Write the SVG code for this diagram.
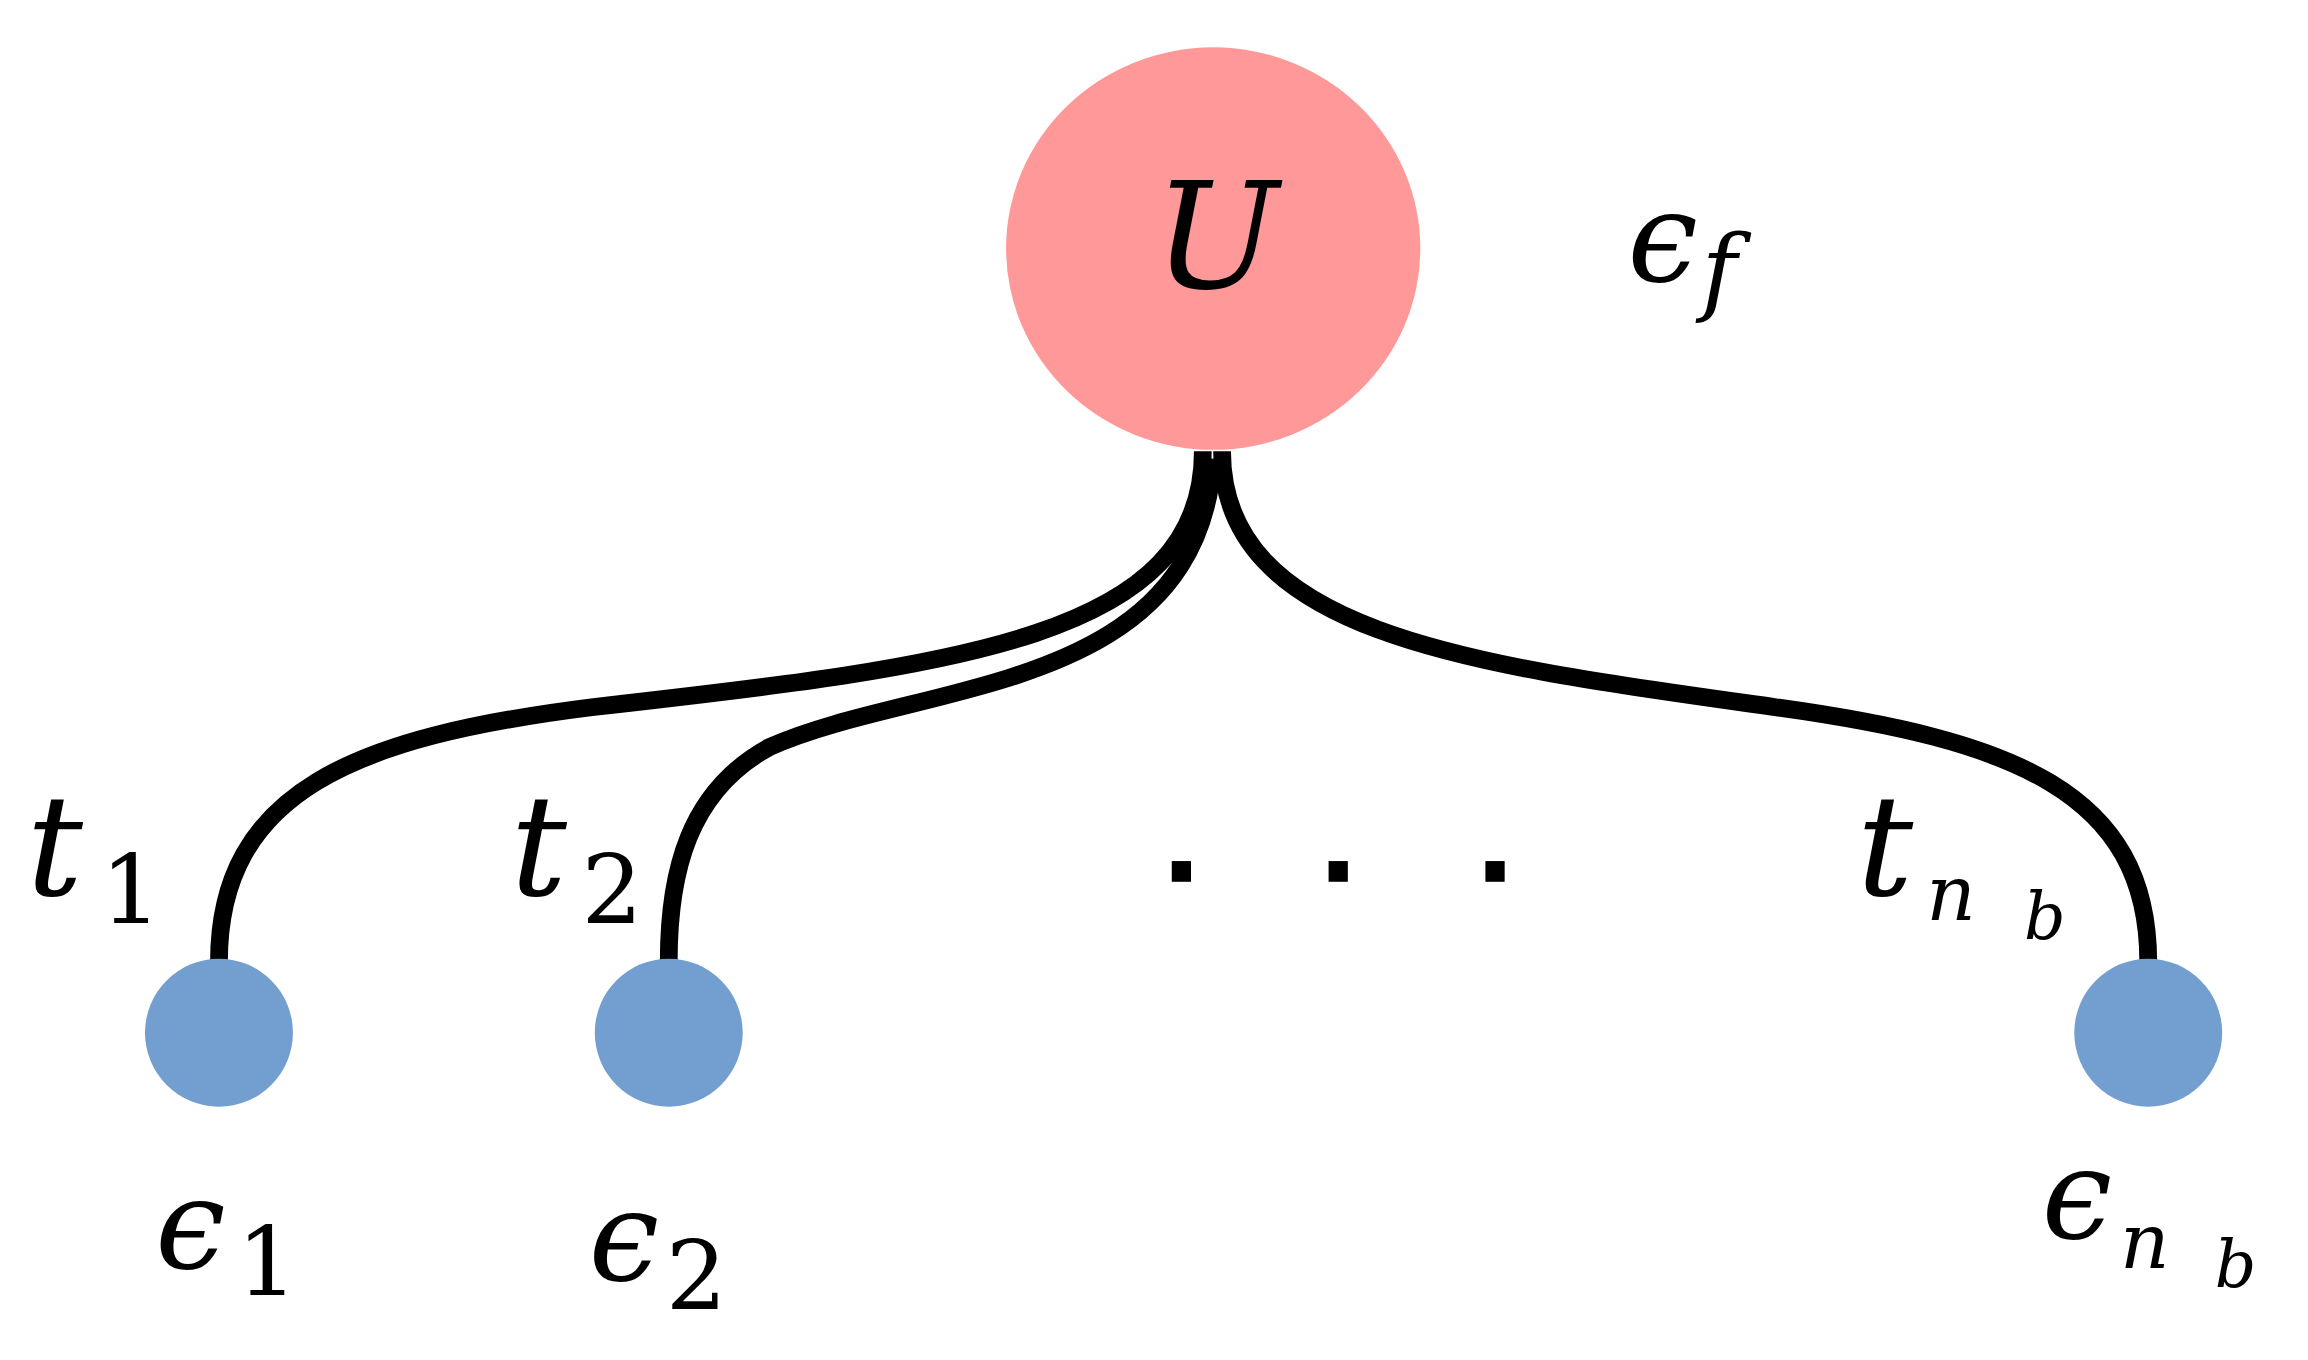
<svg xmlns="http://www.w3.org/2000/svg" width="2308" height="1360" viewBox="0 0 2308 1360">
<style>
.m{font-family:"DejaVu Serif","Liberation Serif",serif;font-style:italic;fill:#000}
.s{font-family:"DejaVu Serif","Liberation Serif",serif;fill:#000}
.e{fill:none;stroke:#000;stroke-width:12}
</style>
<rect width="2308" height="1360" fill="#fff"/>
<g transform="scale(1.4795)">
<g id="connectors">
<path class="e" d="M813,305 C813,430 650,450 400,478 C240,498 148,535 148,650"/>
<path class="e" d="M820,310 C810,470 620,460 520,505 C465,535 452,590 452,650"/>
<path class="e" d="M826,305 C826,430 1000,450 1200,478 C1360,500 1452,535 1452,650"/>
</g>
<g id="nodeU"><ellipse cx="820" cy="168" rx="140" ry="136" fill="#FF9999"/>
<text class="m" x="822" y="195" font-size="100" text-anchor="middle">U</text></g>
<text class="m" x="1100" y="190" font-size="85">ϵ</text><text class="m" x="1150" y="205" font-size="65">f</text>
<g id="node1"><circle cx="148" cy="698" r="50" fill="#729FCF"/></g>
<g id="node2"><circle cx="452" cy="698" r="50" fill="#729FCF"/></g>
<g id="node3"><circle cx="1452" cy="698" r="50" fill="#729FCF"/></g>
<text class="m" x="18" y="605" font-size="95">t</text><text class="s" x="68" y="624" font-size="65">1</text>
<text class="m" x="345" y="605" font-size="95">t</text><text class="s" x="393" y="624" font-size="65">2</text>
<text class="m" x="1255" y="605" font-size="95">t</text><text class="m" x="1302" y="622" font-size="52">n</text><text class="m" x="1368" y="635" font-size="44">b</text>
<g fill="#000"><rect x="792" y="582" width="13" height="14"/><rect x="898" y="582" width="13" height="14"/><rect x="1004" y="582" width="13" height="14"/></g>
<text class="m" x="105" y="857" font-size="85">ϵ</text><text class="s" x="160" y="875" font-size="65">1</text>
<text class="m" x="398" y="865" font-size="85">ϵ</text><text class="s" x="450" y="885" font-size="65">2</text>
<text class="m" x="1380" y="837" font-size="85">ϵ</text><text class="m" x="1433" y="857" font-size="52">n</text><text class="m" x="1497" y="870" font-size="44">b</text>
</g>
</svg>
